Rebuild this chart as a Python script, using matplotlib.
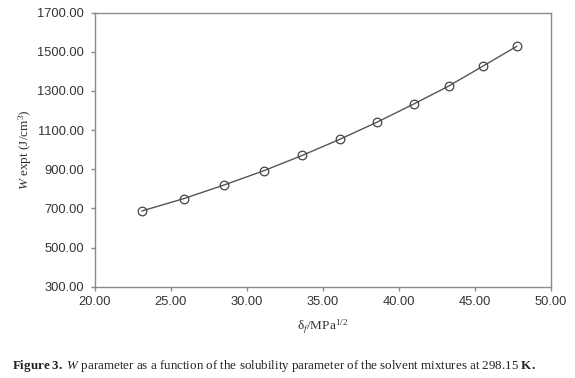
import matplotlib
matplotlib.use("Agg")
import matplotlib.pyplot as plt
from matplotlib.ticker import FormatStrFormatter

# Data
delta_f = [23.09, 25.84, 28.51, 31.13, 33.65, 36.11, 38.55, 40.97, 43.28, 45.56, 47.76]
w_expt = [687, 750, 820, 893, 971, 1053, 1140, 1233, 1325, 1428, 1528]

x_ticks = [20, 25, 30, 35, 40, 45, 50]
y_ticks = [300, 500, 700, 900, 1100, 1300, 1500, 1700]

plt.rcParams['mathtext.fontset'] = 'custom'
plt.rcParams['mathtext.rm'] = 'Liberation Serif'
plt.rcParams['mathtext.it'] = 'Liberation Serif:italic'
plt.rcParams['mathtext.bf'] = 'Liberation Serif:bold'

fig = plt.figure(figsize=(5.75, 3.78), dpi=100)
ax = fig.add_axes([95/575, 1-286.7/378, (550.7-95)/575, (286.7-12.7)/378])

ax.plot(delta_f, w_expt, color='#555555', lw=1.0, marker='o', ms=6.2,
        mfc='none', mec='#444444', mew=0.9)

ax.set_xlim(20, 50)
ax.set_ylim(300, 1700)
ax.set_xticks(x_ticks)
ax.set_yticks(y_ticks)
ax.xaxis.set_major_formatter(FormatStrFormatter('%.2f'))
ax.yaxis.set_major_formatter(FormatStrFormatter('%.2f'))

for s in ax.spines.values():
    s.set_color('#8a8a8a')
    s.set_linewidth(1.0)

ax.tick_params(axis='both', direction='out', length=3, width=1.0, color='#8a8a8a',
               labelsize=9.3, labelcolor='#333333')
ax.tick_params(axis='y', pad=5)
ax.tick_params(axis='x', pad=4)
for lab in ax.get_xticklabels() + ax.get_yticklabels():
    lab.set_family('Liberation Sans')

fig.text(25/575, 1-149.7/378, r'$\mathit{W}$ expt (J/cm$^{3}$)', rotation=90,
         ha='center', va='center', family='Liberation Serif', fontsize=9.5, color='#333333')
fig.text(322.9/575, 1-327/378, r'$\mathrm{\delta}_{\mathit{f}}$/MPa$^{1/2}$',
         ha='center', va='center', family='Liberation Serif', fontsize=9.5, color='#333333')

fig.text(12/575, 1-366/378,
         r'$\mathbf{Figure\ 3.}$ $\mathit{W}$ parameter as a function of the solubility parameter of the solvent mixtures at 298.15 $\mathbf{K.}$',
         ha='left', va='center', family='Liberation Serif', fontsize=9.4, color='#222222')

fig.savefig('out.png', dpi=100, facecolor='white')
